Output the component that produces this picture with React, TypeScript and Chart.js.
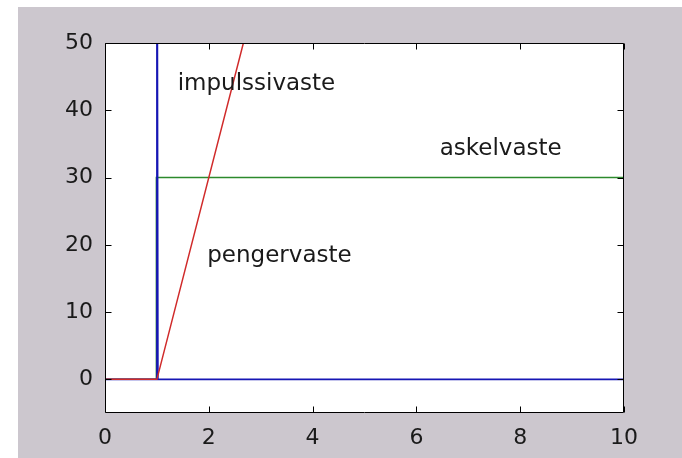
import React, { useEffect, useRef } from "react";
import { Chart, registerables } from "chart.js";

Chart.register(...registerables);

// Step response (askelvaste)
const stepT = [0, 0.99, 0.99, 10];
const stepY = [0, 0, 30, 30];

// Impulse response (impulssivaste), the spike at t = 1 runs far above the axes
const impulseT = [0, 1, 1, 1.02, 10];
const impulseY = [0, 0, 100, 0, 0];

// Ramp response (pengervaste)
const rampT = [0, 1, 10];
const rampY = [0, 0, 270];

const xTicks = [0, 2, 4, 6, 8, 10];
const yTicks = [0, 10, 20, 30, 40, 50];

// Text labels placed in data coordinates (left edge, baseline)
const labelText = ["impulssivaste", "askelvaste", "pengervaste"];
const labelX = [1.4, 6.45, 1.97];
const labelY = [43, 33.4, 17.5];

const FIG_BG = "#ccc7ce";
const FONT = "'DejaVu Sans', sans-serif";

const toPoints = (t: number[], y: number[]) => t.map((v, i) => ({ x: v, y: y[i] }));

const figurePlugin = {
  id: "figureFrame",
  beforeDraw(chart: any) {
    const { ctx, width, height, chartArea } = chart;
    ctx.save();
    ctx.fillStyle = "#ffffff";
    ctx.fillRect(0, 0, width, height);
    ctx.fillStyle = FIG_BG;
    ctx.fillRect(18, 7, width - 18, height - 7);
    ctx.fillStyle = "#ffffff";
    ctx.fillRect(chartArea.left, chartArea.top, chartArea.right - chartArea.left, chartArea.bottom - chartArea.top);
    ctx.restore();
  },
  afterDraw(chart: any) {
    const { ctx, chartArea, scales } = chart;
    const { left, right, top, bottom } = chartArea;
    const xs = scales.x;
    const ys = scales.y;
    const tl = 6;
    ctx.save();
    // labels
    ctx.fillStyle = "#1a1a1a";
    ctx.font = `23px ${FONT}`;
    ctx.textAlign = "left";
    ctx.textBaseline = "alphabetic";
    labelText.forEach((txt, i) => {
      ctx.fillText(txt, xs.getPixelForValue(labelX[i]), ys.getPixelForValue(labelY[i]));
    });
    // axes box with inward ticks on all four sides
    ctx.strokeStyle = "#000000";
    ctx.lineWidth = 1;
    const L = Math.round(left) + 0.5;
    const R = Math.round(right) - 0.5;
    const T = Math.round(top) + 0.5;
    const B = Math.round(bottom) - 0.5;
    ctx.beginPath();
    ctx.rect(L, T, R - L, B - T);
    xTicks.forEach((v) => {
      const px = Math.round(xs.getPixelForValue(v)) + 0.5;
      ctx.moveTo(px, B);
      ctx.lineTo(px, B - tl);
      ctx.moveTo(px, T);
      ctx.lineTo(px, T + tl);
    });
    yTicks.forEach((v) => {
      const py = Math.round(ys.getPixelForValue(v)) + 0.5;
      ctx.moveTo(L, py);
      ctx.lineTo(L + tl, py);
      ctx.moveTo(R, py);
      ctx.lineTo(R - tl, py);
    });
    ctx.stroke();
    ctx.restore();
  },
};

export default function App() {
  const canvasRef = useRef<HTMLCanvasElement | null>(null);

  useEffect(() => {
    if (!canvasRef.current) return;
    const chart = new Chart(canvasRef.current, {
      type: "line",
      data: {
        datasets: [
          {
            label: "pengervaste",
            data: toPoints(rampT, rampY),
            borderColor: "#d02a2a",
            borderWidth: 1.5,
            pointRadius: 0,
            tension: 0,
          },
          {
            label: "impulssivaste",
            data: toPoints(impulseT, impulseY),
            borderColor: "#1616b4",
            borderWidth: 1.6,
            pointRadius: 0,
            tension: 0,
          },
          {
            label: "askelvaste",
            data: toPoints(stepT, stepY),
            borderColor: "#2c8a2c",
            borderWidth: 1.5,
            pointRadius: 0,
            tension: 0,
          },
        ],
      },
      options: {
        responsive: false,
        animation: false,
        devicePixelRatio: 1,
        layout: { padding: { top: 43, right: 58, left: 0, bottom: 0 } },
        plugins: { legend: { display: false }, tooltip: { enabled: false } },
        scales: {
          x: {
            type: "linear",
            min: 0,
            max: 10,
            grid: { display: false, drawTicks: false },
            border: { display: false },
            afterBuildTicks: (s: any) => {
              s.ticks = xTicks.map((v) => ({ value: v }));
            },
            afterFit: (s: any) => {
              s.height = 45;
            },
            ticks: {
              color: "#1a1a1a",
              font: { family: FONT, size: 22 },
              padding: 12,
              maxRotation: 0,
              autoSkip: false,
            },
          },
          y: {
            type: "linear",
            min: -5,
            max: 50,
            grid: { display: false, drawTicks: false },
            border: { display: false },
            afterBuildTicks: (s: any) => {
              s.ticks = yTicks.map((v) => ({ value: v }));
            },
            afterFit: (s: any) => {
              s.width = 105;
            },
            ticks: {
              color: "#1a1a1a",
              font: { family: FONT, size: 22 },
              padding: 12,
              autoSkip: false,
            },
          },
        },
      },
      plugins: [figurePlugin],
    });
    return () => chart.destroy();
  }, []);

  return (
    <div style={{ position: "fixed", left: 0, top: 0, width: 682, height: 458 }}>
      <canvas ref={canvasRef} width={682} height={458} style={{ display: "block", width: 682, height: 458 }} />
    </div>
  );
}
